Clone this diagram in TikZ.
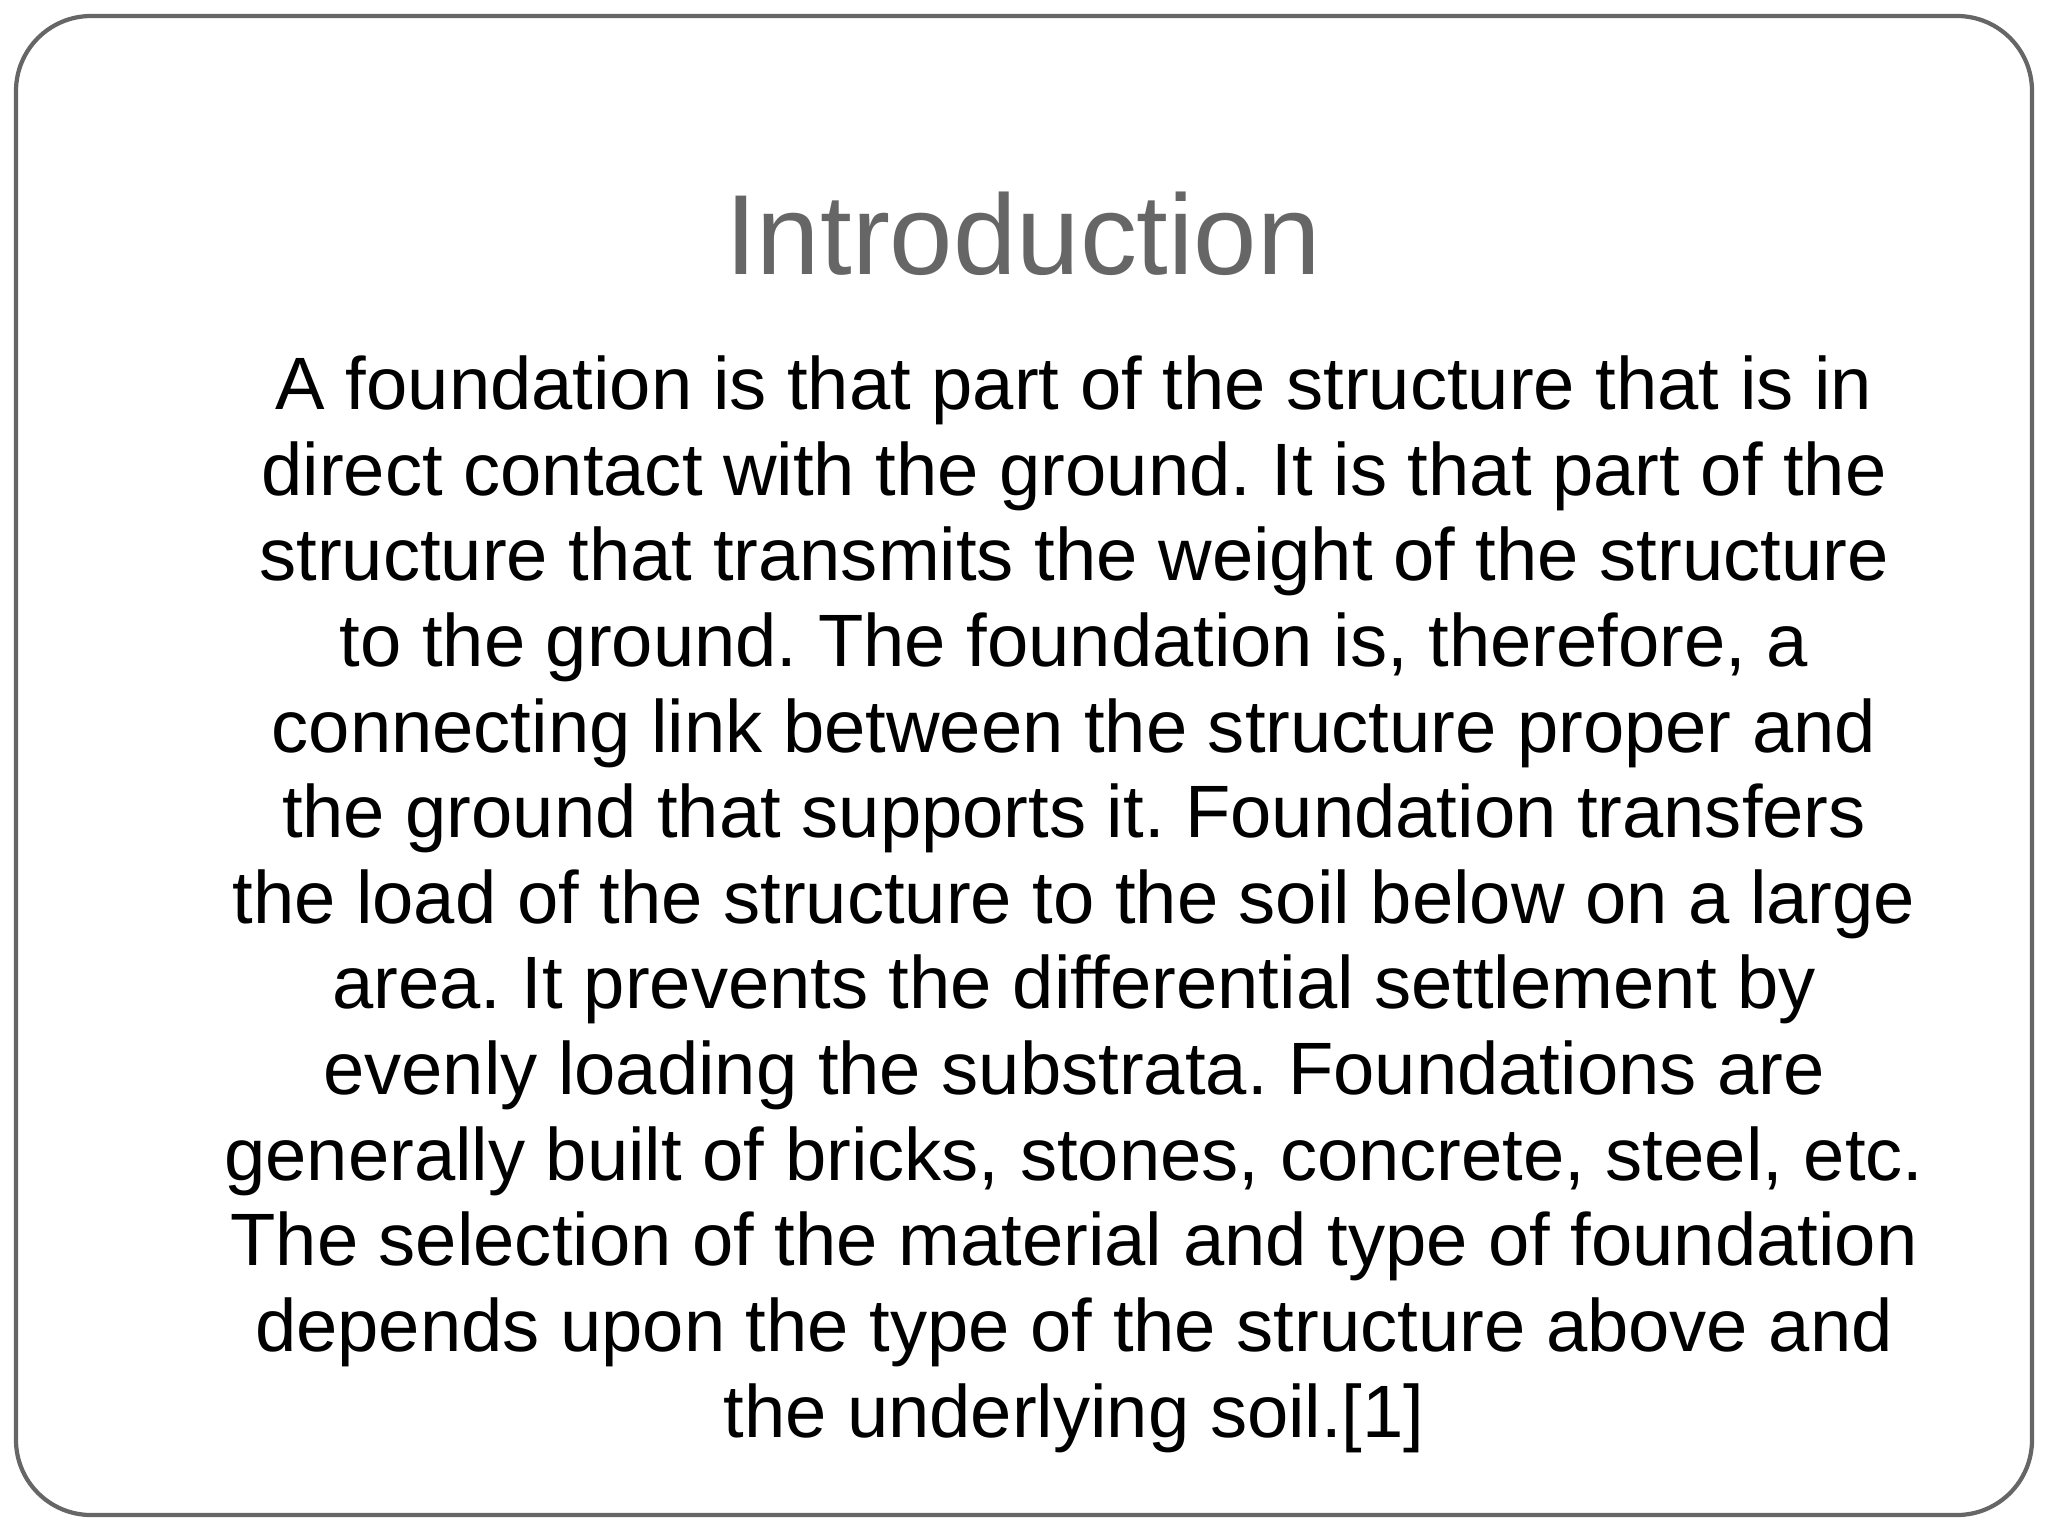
\documentclass[tikz,border=0pt]{standalone}
\usepackage{fontspec}
\setmainfont{Liberation Sans}
\frenchspacing
\begin{document}
\begin{tikzpicture}[x=0.01cm,y=-0.01cm,
  frame/.style={draw=black!60,line width=1.2pt,rounded corners=0.75cm},
  title/.style={font=\fontsize{32.4}{36}\selectfont,text=black!60},
  body/.style={font=\fontsize{21.1}{24.35}\selectfont,align=center,inner sep=0pt}]
\useasboundingbox (0,0) rectangle (2048,1536);
\draw[frame] (16,16) rectangle (2032,1515);
\node[title,anchor=base] (t) at (1023,274) {Introduction};
\node[body,anchor=north] (b) at (1074,355) {A foundation is that part of the structure that is in\\
direct contact with the ground. It is that part of the\\
structure that transmits the weight of the structure\\
to the ground. The foundation is, therefore, a\\
connecting link between the structure proper and\\
the ground that supports it. Foundation transfers\\
the load of the structure to the soil below on a large\\
area. It prevents the differential settlement by\\
evenly loading the substrata. Foundations are\\
generally built of bricks, stones, concrete, steel, etc.\\
The selection of the material and type of foundation\\
depends upon the type of the structure above and\\
the underlying soil.[1]};
\end{tikzpicture}
\end{document}
